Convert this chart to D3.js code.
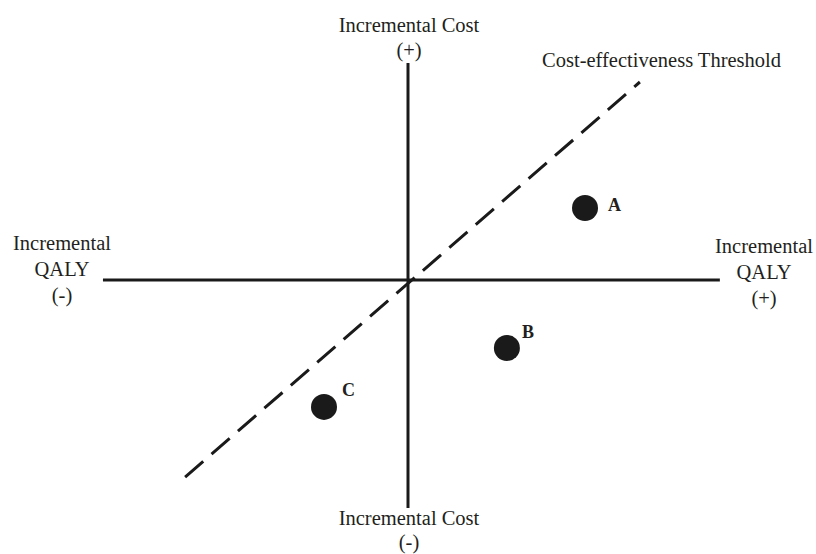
<!DOCTYPE html>
<html>
<head>
<meta charset="utf-8">
<script src="https://cdn.jsdelivr.net/npm/d3@7"></script>
<style>
  body { margin: 0; background: #fff; }
  svg text { font-family: "Liberation Serif", "Times New Roman", serif; fill: #231f20; }
</style>
</head>
<body>
<div id="chart"></div>
<script>
// cost-effectiveness plane, units are arbitrary (0,0 = comparator)
var xAxisExtent = [-9.84, 10.06];
var yAxisExtent = [-10.13, 9.64];

var pointNames = ["A", "B", "C"];
var pointQaly = [5.71, 3.19, -2.71];
var pointCost = [3.2, -3.02, -5.64];

var thresholdQaly = [-7.19, 7.48];
var thresholdCost = [-8.76, 8.8];

var width = 816, height = 554;

var x = d3.scaleLinear().domain([-10, 10]).range([98, 718]);
var y = d3.scaleLinear().domain([-10, 10]).range([505, 55]);

var svg = d3.select("#chart").append("svg")
    .attr("width", width)
    .attr("height", height);

// axes (plain crosshair, no ticks)
svg.append("line")
    .attr("x1", x(xAxisExtent[0])).attr("x2", x(xAxisExtent[1]))
    .attr("y1", y(0)).attr("y2", y(0))
    .attr("stroke", "#1a1a1a").attr("stroke-width", 3);

svg.append("line")
    .attr("x1", x(0)).attr("x2", x(0))
    .attr("y1", y(yAxisExtent[1])).attr("y2", y(yAxisExtent[0]))
    .attr("stroke", "#1a1a1a").attr("stroke-width", 3);

// threshold line, drawn bottom-left to top-right
var threshold = thresholdQaly.map(function(d, i) { return { q: d, c: thresholdCost[i] }; });
var line = d3.line()
    .x(function(d) { return x(d.q); })
    .y(function(d) { return y(d.c); });

svg.append("path")
    .datum(threshold)
    .attr("d", line)
    .attr("fill", "none")
    .attr("stroke", "#1a1a1a")
    .attr("stroke-width", 3)
    .attr("stroke-dasharray", "24,11");

// points
var points = pointNames.map(function(d, i) { return { name: d, q: pointQaly[i], c: pointCost[i] }; });

svg.selectAll(".dot")
    .data(points)
    .enter().append("circle")
    .attr("class", "dot")
    .attr("cx", function(d) { return x(d.q); })
    .attr("cy", function(d) { return y(d.c); })
    .attr("r", 13)
    .attr("fill", "#1a1a1a");

var labelOffset = { A: [23, 3], B: [15, -10], C: [18, -11] };
svg.selectAll(".dot-label")
    .data(points)
    .enter().append("text")
    .attr("class", "dot-label")
    .attr("x", function(d) { return x(d.q) + labelOffset[d.name][0]; })
    .attr("y", function(d) { return y(d.c) + labelOffset[d.name][1]; })
    .style("font-size", "18px")
    .style("font-weight", "bold")
    .text(function(d) { return d.name; });

// axis labels
function label(lines, cx, y0, dy) {
    var t = svg.append("text")
        .attr("text-anchor", "middle")
        .style("font-size", "20.5px");
    lines.forEach(function(s, i) {
        t.append("tspan").attr("x", cx).attr("y", y0 + i * dy).text(s);
    });
}

label(["Incremental Cost", "(+)"], 409, 32, 25);
label(["Incremental Cost", "(-)"], 409, 525, 24);
label(["Incremental", "QALY", "(-)"], 62, 250, 26);
label(["Incremental", "QALY", "(+)"], 764, 253, 26);

svg.append("text")
    .attr("x", 781)
    .attr("y", 67)
    .attr("text-anchor", "end")
    .style("font-size", "20.5px")
    .text("Cost-effectiveness Threshold");
</script>
</body>
</html>
